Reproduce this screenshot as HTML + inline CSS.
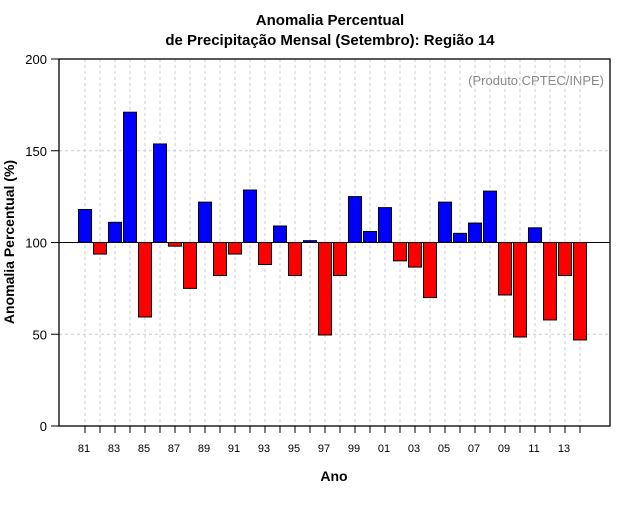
<!DOCTYPE html>
<html><head><meta charset="utf-8"><style>
body{margin:0;background:#fff;}
svg text{font-family:"Liberation Sans",sans-serif;}
</style></head><body>
<svg id="chart" width="640" height="500" xmlns="http://www.w3.org/2000/svg">
<rect width="640" height="500" fill="#fff"/>
<text x="330" y="25" text-anchor="middle" font-size="15" font-weight="bold">Anomalia Percentual</text>
<text x="330" y="45" text-anchor="middle" font-size="15" font-weight="bold">de Precipitação Mensal (Setembro): Região 14</text>
<text x="604" y="85" text-anchor="end" font-size="13" fill="#888">(Produto:CPTEC/INPE)</text>
<text x="334" y="481" text-anchor="middle" font-size="14" font-weight="bold">Ano</text>
<text transform="translate(14,242) rotate(-90)" text-anchor="middle" font-size="14" font-weight="bold">Anomalia Percentual (%)</text>
<g id="grid"></g><g id="bars"></g><g id="axes"></g>
</svg>
<script>
const years=[1981,1982,1983,1984,1985,1986,1987,1988,1989,1990,1991,1992,1993,1994,1995,1996,1997,1998,1999,2000,2001,2002,2003,2004,2005,2006,2007,2008,2009,2010,2011,2012,2013,2014];
const values=[118,93.7,111,171,59.4,153.7,98,75,122,82,93.7,128.6,88,109,82,101,49.6,82,125,106,119,90,86.6,70,122,105,110.6,128,71.4,48.5,108,57.8,82,46.9];
const yTicks=[0,50,100,150,200];
const NS="http://www.w3.org/2000/svg";
const L=59,R=610,T=59,B=426;
const x=i=>85+i*15;
const y=v=>B-(v/200)*(B-T);
function mk(t,a,p){const e=document.createElementNS(NS,t);for(const k in a)e.setAttribute(k,a[k]);p.appendChild(e);return e;}
const g=document.getElementById('grid'),b=document.getElementById('bars'),ax=document.getElementById('axes');
years.forEach((yr,i)=>{const l=mk('line',{x1:x(i),x2:x(i),y1:T,y2:B,stroke:'#ccc','stroke-dasharray':'3,3'},g);

});
yTicks.forEach(v=>{if(v>0&&v<200){const l=mk('line',{x1:L,x2:R,y1:y(v),y2:y(v),stroke:'#ccc','stroke-dasharray':'3,3'},g);

}});
values.forEach((v,i)=>{const top=Math.min(y(v),y(100)),h=Math.abs(y(v)-y(100));
const r=mk('rect',{x:x(i)-6.5,y:top,width:13,height:h,fill:v>=100?'#0000ff':'#ff0000',stroke:'#000','stroke-width':1},b);

});
const ref=mk('line',{x1:L,x2:R,y1:y(100),y2:y(100),stroke:'#000','stroke-width':1},ax);


const fr=mk('rect',{x:L,y:T,width:R-L,height:B-T,fill:'none',stroke:'#000','stroke-width':1.3},ax);


yTicks.forEach(v=>{const t=mk('line',{x1:L-8,x2:L,y1:y(v),y2:y(v),stroke:'#000'},ax);


const tx=mk('text',{x:L-12,y:y(v)+5,'text-anchor':'end','font-size':13},ax);tx.textContent=v;

});
years.forEach((yr,i)=>{const t=mk('line',{x1:x(i),x2:x(i),y1:B,y2:B+7,stroke:'#000'},ax);


if(i%2===0){const tx=mk('text',{x:x(i)-1,y:B+26,'text-anchor':'middle','font-size':11},ax);tx.textContent=String(yr).slice(2);

}});
</script>
</body></html>
